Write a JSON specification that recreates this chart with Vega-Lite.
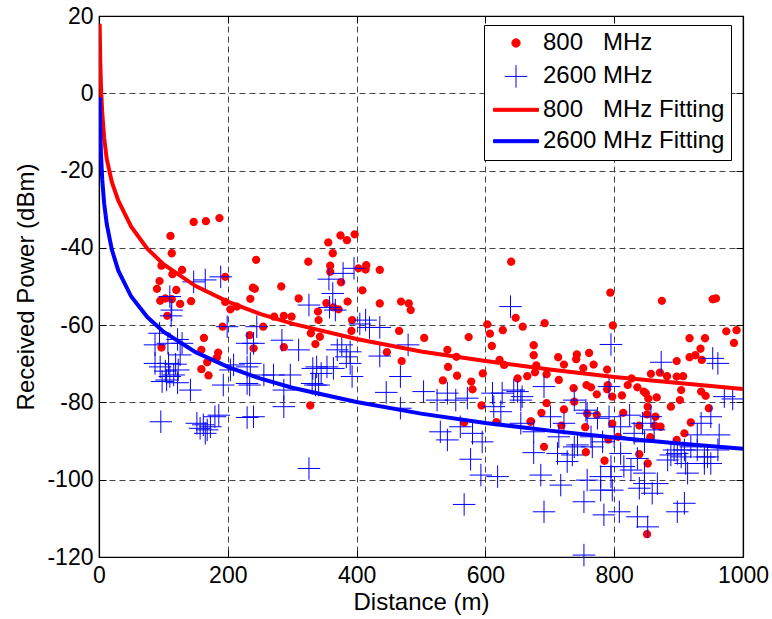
{
  "$schema": "https://vega.github.io/schema/vega-lite/v6.json",
  "width": 644,
  "height": 541,
  "autosize": {"type": "none"},
  "padding": {"left": 99, "top": 16, "right": 29, "bottom": 62},
  "background": "white",
  "config": {
    "view": {"stroke": "black", "strokeWidth": 1.2},
    "font": "Liberation Sans",
    "axis": {
      "domainColor": "black", "domainWidth": 1.2,
      "tickColor": "black", "tickSize": -7, "tickWidth": 1,
      "labelFont": "Liberation Sans", "labelFontSize": 23, "labelColor": "black",
      "titleFont": "Liberation Sans", "titleFontSize": 24, "titleFontWeight": "normal", "titleColor": "black",
      "gridColor": "#444444", "gridDash": [6, 4], "gridWidth": 1, "gridOpacity": 1
    },
    "legend": {
      "strokeColor": "black", "fillColor": "white", "padding": 6,
      "symbolSize": 400, "symbolStrokeWidth": 1,
      "labelFont": "Liberation Sans", "labelFontSize": 24, "labelColor": "black", "labelLimit": 0,
      "labelOffset": 15, "rowPadding": 7.4, "symbolOffset": 14
    }
  },
  "datasets": {
    "r": [
      {"d":111,"p":-36.9},{"d":113,"p":-41.4},{"d":147,"p":-33.3},{"d":166,"p":-33.1},{"d":187,"p":-32.3},{"d":244,"p":-43.1},{"d":325,"p":-43.6},{"d":356,"p":-38.6},{"d":363,"p":-41.4},{"d":375,"p":-36.8},{"d":385,"p":-38},{"d":397,"p":-36.5},
      {"d":97,"p":-44.6},{"d":94,"p":-48.6},{"d":90,"p":-50.6},{"d":114,"p":-46.8},{"d":129,"p":-45.7},{"d":120,"p":-50.9},{"d":95,"p":-53.7},{"d":103,"p":-53.1},{"d":113,"p":-53.3},{"d":126,"p":-54.5},{"d":106,"p":-57.6},{"d":143,"p":-53.8},{"d":196,"p":-47.5},{"d":239,"p":-50.3},{"d":242,"p":-50.6},{"d":235,"p":-53.2},{"d":196,"p":-54},{"d":204,"p":-55.9},{"d":214,"p":-55.2},{"d":283,"p":-50},{"d":310,"p":-53.1},{"d":272,"p":-57.8},{"d":287,"p":-57.6},{"d":299,"p":-57.8},{"d":255,"p":-60.4},{"d":192,"p":-60.4},{"d":163,"p":-63.3},{"d":234,"p":-62.6},{"d":240,"p":-66},{"d":287,"p":-65.7},{"d":97,"p":-65.8},{"d":159,"p":-66.4},{"d":185,"p":-67.1},{"d":183,"p":-68.4},{"d":168,"p":-69.6},{"d":159,"p":-71.4},{"d":170,"p":-73},{"d":340,"p":-56.5},{"d":341,"p":-58.7},{"d":336,"p":-64.9},{"d":329,"p":-62.1},{"d":328,"p":-80.8},
      {"d":359,"p":-44.6},{"d":359,"p":-46.2},{"d":376,"p":-48.9},{"d":403,"p":-45.3},{"d":415,"p":-44.5},{"d":414,"p":-45.6},{"d":436,"p":-45.7},{"d":409,"p":-51},{"d":386,"p":-53.9},{"d":436,"p":-54.4},{"d":469,"p":-53.9},{"d":481,"p":-54.4},{"d":484,"p":-56.1},{"d":353,"p":-54.3},{"d":364,"p":-55.4},{"d":372,"p":-55.9},{"d":393,"p":-58.7},{"d":392,"p":-61.5},{"d":343,"p":-63},{"d":466,"p":-61.5},{"d":505,"p":-63.3},{"d":447,"p":-67},{"d":470,"p":-69.3},{"d":574,"p":-63.1},{"d":541,"p":-66.4},{"d":555,"p":-68.2},{"d":542,"p":-70.8},{"d":556,"p":-73.1},{"d":534,"p":-74.3},{"d":578,"p":-74.6},{"d":580,"p":-76.6},{"d":596,"p":-72.5},{"d":594,"p":-80.8},{"d":567,"p":-85.2},{"d":603,"p":-59.8},{"d":607,"p":-62.2},{"d":610,"p":-65.4},{"d":627,"p":-61.3},{"d":647,"p":-58.1},{"d":658,"p":-60.4},{"d":640,"p":-43.6},{"d":622,"p":-69},{"d":629,"p":-70.3},{"d":650,"p":-73.8},{"d":665,"p":-73.2},{"d":617,"p":-85.1},{"d":670,"p":-85},
      {"d":794,"p":-51.6},{"d":874,"p":-53.7},{"d":953,"p":-53.3},{"d":958,"p":-53.1},{"d":692,"p":-59.5},{"d":798,"p":-60.1},{"d":974,"p":-61.6},{"d":990,"p":-61.3},{"d":986,"p":-64.6},{"d":917,"p":-63.4},{"d":941,"p":-63.4},{"d":934,"p":-66.1},{"d":926,"p":-67.8},{"d":917,"p":-68.3},{"d":936,"p":-69},{"d":897,"p":-69.3},{"d":675,"p":-65.2},{"d":675,"p":-67.8},{"d":713,"p":-68.3},{"d":742,"p":-67.6},{"d":741,"p":-68.8},{"d":761,"p":-67.2},{"d":768,"p":-70.2},{"d":752,"p":-71.1},{"d":722,"p":-70.2},{"d":714,"p":-74.2},{"d":679,"p":-70.4},{"d":677,"p":-72.2},{"d":695,"p":-72.7},{"d":789,"p":-71.5},{"d":790,"p":-75.5},{"d":789,"p":-76.6},{"d":797,"p":-78.5},{"d":812,"p":-78.2},{"d":737,"p":-76.3},{"d":757,"p":-75.5},{"d":764,"p":-76.1},{"d":773,"p":-77.9},{"d":738,"p":-79.8},{"d":695,"p":-80.2},{"d":687,"p":-82.7},{"d":722,"p":-81.8},{"d":758,"p":-82.9},{"d":773,"p":-83.2},{"d":671,"p":-84.9},{"d":718,"p":-86},{"d":755,"p":-86.4},{"d":797,"p":-85.5},{"d":814,"p":-82.7},{"d":821,"p":-75.5},{"d":827,"p":-73.8},{"d":836,"p":-76.1},{"d":846,"p":-77.2},{"d":849,"p":-77.6},{"d":853,"p":-79},{"d":852,"p":-81.1},{"d":851,"p":-83.1},{"d":866,"p":-78.7},{"d":857,"p":-72.6},{"d":871,"p":-72.3},{"d":882,"p":-73.2},{"d":897,"p":-73.3},{"d":907,"p":-73.2},{"d":904,"p":-76.8},{"d":902,"p":-79.4},{"d":888,"p":-81.1},{"d":864,"p":-83.7},{"d":863,"p":-86},{"d":872,"p":-86.3},{"d":839,"p":-86},{"d":856,"p":-89},{"d":839,"p":-93.4},{"d":852,"p":-95.8},{"d":851,"p":-114.1},{"d":919,"p":-85.2},{"d":909,"p":-88},{"d":897,"p":-89.7},{"d":935,"p":-77.2},{"d":942,"p":-78.3},{"d":947,"p":-81.5},{"d":756,"p":-92.9},{"d":785,"p":-95.1},{"d":791,"p":-89.6},{"d":806,"p":-88.9},{"d":691,"p":-91.5}
    ],
    "b": [
      {"d":112,"p":-57.6},{"d":199,"p":-60.4},{"d":94,"p":-62.1},{"d":122,"p":-63.7},{"d":129,"p":-64.7},{"d":107,"p":-64.7},{"d":87,"p":-65.1},{"d":126,"p":-67.7},{"d":87,"p":-69.9},{"d":95,"p":-70.8},{"d":108,"p":-69.9},{"d":119,"p":-70.1},{"d":123,"p":-71.6},{"d":103,"p":-71.9},{"d":110,"p":-73.3},{"d":116,"p":-72.9},{"d":105,"p":-74.2},{"d":98,"p":-74.6},{"d":122,"p":-74.9},{"d":142,"p":-76.8},{"d":193,"p":-75.5},{"d":204,"p":-71.6},{"d":209,"p":-70.3},{"d":230,"p":-70.8},{"d":230,"p":-75.1},{"d":230,"p":-64.7},{"d":96,"p":-85},{"d":162,"p":-85.8},{"d":157,"p":-86.7},{"d":168,"p":-87.1},{"d":173,"p":-86.3},{"d":180,"p":-83.7},{"d":186,"p":-83.3},{"d":165,"p":-88},{"d":230,"p":-83.9},{"d":152,"p":-85.4},
      {"d":165,"p":-48.3},{"d":147,"p":-48.8},{"d":189,"p":-47.5},{"d":110,"p":-52.6},{"d":113,"p":-56.1},{"d":240,"p":-64.7},{"d":245,"p":-60.4},{"d":284,"p":-63.9},{"d":310,"p":-66.4},{"d":326,"p":-54.8},{"d":235,"p":-69.9},{"d":234,"p":-75.5},{"d":256,"p":-72.9},{"d":271,"p":-72.9},{"d":297,"p":-72.9},{"d":287,"p":-76.8},{"d":287,"p":-81.1},{"d":332,"p":-71.2},{"d":336,"p":-75.5},{"d":240,"p":-83.7},{"d":326,"p":-97.1},
      {"d":379,"p":-46.6},{"d":396,"p":-45.3},{"d":357,"p":-48.1},{"d":363,"p":-51.8},{"d":358,"p":-55.4},{"d":367,"p":-56.1},{"d":414,"p":-58.7},{"d":405,"p":-59.7},{"d":436,"p":-60.6},{"d":420,"p":-60.6},{"d":377,"p":-65.1},{"d":370,"p":-66.4},{"d":390,"p":-66.9},{"d":384,"p":-68.2},{"d":436,"p":-68},{"d":480,"p":-65.1},{"d":468,"p":-73.3},{"d":390,"p":-69.9},{"d":393,"p":-73.3},{"d":338,"p":-70.8},{"d":354,"p":-70.8},{"d":364,"p":-71.2},{"d":345,"p":-72.5},{"d":331,"p":-75.1},{"d":341,"p":-75.5},{"d":446,"p":-77.4},{"d":468,"p":-81.5},{"d":504,"p":-77.2},{"d":541,"p":-77.6},{"d":554,"p":-79.4},{"d":572,"p":-78.9},{"d":525,"p":-79.4},{"d":611,"p":-77.6},{"d":626,"p":-77.6},{"d":613,"p":-81.1},{"d":624,"p":-82.4},{"d":650,"p":-77.2},{"d":655,"p":-79.4},{"d":639,"p":-55.2},{"d":530,"p":-87.6},{"d":541,"p":-89.7},{"d":561,"p":-86.3},{"d":580,"p":-88},{"d":595,"p":-90.2},{"d":577,"p":-94.7},{"d":593,"p":-98.8},{"d":619,"p":-99.2},{"d":655,"p":-85.4},
      {"d":567,"p":-106.4},{"d":675,"p":-93},{"d":686,"p":-98.8},{"d":717,"p":-101.4},{"d":691,"p":-108.3},{"d":727,"p":-95.3},{"d":735,"p":-93.6},{"d":753,"p":-105.7},{"d":766,"p":-91.5},{"d":784,"p":-109.1},{"d":779,"p":-99.2},{"d":795,"p":-99.2},{"d":797,"p":-102.7},{"d":808,"p":-108.3},{"d":839,"p":-102.2},{"d":852,"p":-112.2},{"d":836,"p":-109.6},{"d":859,"p":-103.5},{"d":867,"p":-101},{"d":909,"p":-106.1},{"d":898,"p":-108.3},{"d":914,"p":-98.3},{"d":940,"p":-95.8},{"d":945,"p":-94.1},{"d":753,"p":-119.5},{"d":815,"p":-96.6},{"d":810,"p":-93.2},{"d":847,"p":-98.3},{"d":883,"p":-94.9},{"d":898,"p":-93.2},{"d":712,"p":-93.2},{"d":743,"p":-91},{"d":961,"p":-92.3},{"d":929,"p":-92.3},
      {"d":795,"p":-65},{"d":873,"p":-69.6},{"d":953,"p":-68.6},{"d":961,"p":-69.9},{"d":984,"p":-79.1},{"d":971,"p":-78.5},{"d":644,"p":-76.8},{"d":657,"p":-78.5},{"d":691,"p":-75.9},{"d":738,"p":-79.4},{"d":701,"p":-83.7},{"d":722,"p":-85.4},{"d":758,"p":-82.8},{"d":774,"p":-84.1},{"d":792,"p":-75.9},{"d":792,"p":-83.7},{"d":764,"p":-88.9},{"d":782,"p":-90.2},{"d":800,"p":-88.9},{"d":810,"p":-86.3},{"d":831,"p":-88},{"d":847,"p":-90.2},{"d":862,"p":-87.1},{"d":857,"p":-83.7},{"d":893,"p":-92.3},{"d":904,"p":-94.1},{"d":929,"p":-88.4},{"d":935,"p":-85.4},{"d":909,"p":-92.3},{"d":919,"p":-91.5},{"d":940,"p":-94.1},{"d":950,"p":-95.8},{"d":888,"p":-93.6},{"d":950,"p":-83.7},{"d":963,"p":-88.4},{"d":756,"p":-82},{"d":824,"p":-83.3},{"d":844,"p":-85.4},{"d":714,"p":-88.9},{"d":675,"p":-87.6},{"d":738,"p":-91.5},{"d":795,"p":-96.6},{"d":758,"p":-100.1},{"d":826,"p":-97.5},{"d":911,"p":-95.8},{"d":836,"p":-94.5},{"d":847,"p":-101},{"d":779,"p":-102.7}
    ],
    "rf": [
      {"d":1,"p":18},{"d":2,"p":8},{"d":3,"p":2},{"d":5,"p":-5},{"d":8,"p":-11.5},{"d":12,"p":-17},{"d":20,"p":-23},{"d":30,"p":-27.8},{"d":50,"p":-34.5},{"d":75,"p":-40.2},{"d":100,"p":-44.2},{"d":150,"p":-49.9},{"d":200,"p":-53.9},{"d":250,"p":-57.1},{"d":300,"p":-59.6},{"d":400,"p":-63.6},{"d":500,"p":-66.8},{"d":600,"p":-69.3},{"d":700,"p":-71.5},{"d":800,"p":-73.4},{"d":900,"p":-75.0},{"d":1000,"p":-76.5}
    ],
    "bf": [
      {"d":1,"p":-1},{"d":2,"p":-10},{"d":3,"p":-15.5},{"d":5,"p":-22.3},{"d":8,"p":-28.5},{"d":12,"p":-33.8},{"d":20,"p":-40.5},{"d":30,"p":-45.9},{"d":50,"p":-52.6},{"d":75,"p":-57.9},{"d":100,"p":-61.7},{"d":150,"p":-67.0},{"d":200,"p":-70.8},{"d":250,"p":-73.8},{"d":300,"p":-76.2},{"d":400,"p":-79.9},{"d":500,"p":-82.9},{"d":600,"p":-85.3},{"d":700,"p":-87.3},{"d":800,"p":-89.1},{"d":900,"p":-90.6},{"d":1000,"p":-92.0}
    ]
  },
  "resolve": {"axis": {"x": "independent", "y": "independent"}},
  "layer": [
    {
      "data": {"name": "r"},
      "mark": {"type": "point", "filled": true, "size": 400, "opacity": 1, "strokeWidth": 0},
      "encoding": {
        "x": {"field": "d", "type": "quantitative", "scale": {"domain": [0, 1000], "nice": false, "zero": false},
              "axis": {"orient": "bottom", "values": [0, 200, 400, 600, 800, 1000], "title": "Distance (m)", "labelPadding": 14, "titlePadding": 3, "grid": true, "labelFlush": false, "labelExpr": "'' + datum.value"}},
        "y": {"field": "p", "type": "quantitative", "scale": {"domain": [-120, 20], "nice": false, "zero": false},
              "axis": {"orient": "left", "values": [-120, -100, -80, -60, -40, -20, 0, 20], "title": "Received Power (dBm)", "labelPadding": 13, "titlePadding": 8, "grid": true, "labelFlush": false, "labelExpr": "'' + datum.value"}},
        "color": {"datum": "r", "type": "nominal",
                  "scale": {"domain": ["r", "b", "rf", "bf"], "range": ["#ff0000", "#0000ff", "#ff0000", "#0000ff"]},
                  "legend": {"title": null, "orient": "none", "legendX": 385, "legendY": 9,
                             "labelExpr": "datum.value == 'r' ? '800\u00a0\u00a0\u00a0MHz' : datum.value == 'b' ? '2600 MHz' : datum.value == 'rf' ? '800\u00a0\u00a0\u00a0MHz Fitting' : '2600 MHz Fitting'",
                             "encode": {"symbols": {"update": {
                               "fill": {"scale": "color", "field": "value"},
                               "stroke": {"scale": "color", "field": "value"},
                               "strokeWidth": {"value": 1},
                               "shape": {"scale": "shape", "field": "value"},
                               "opacity": {"value": 1}}}}}},
        "shape": {"datum": "r", "type": "nominal",
                  "scale": {"domain": ["r", "b", "rf", "bf"],
                            "range": ["M-0.416,0A0.416,0.416,0,1,0,0.416,0A0.416,0.416,0,1,0,-0.416,0Z", "M-1.125,0L1.125,0M0,-1.125L0,1.125", "M-2.25,-0.15L2.25,-0.15L2.25,0.15L-2.25,0.15Z", "M-2.25,-0.15L2.25,-0.15L2.25,0.15L-2.25,0.15Z"]},
                  "legend": null}
      }
    },
    {
      "data": {"name": "b"},
      "mark": {"type": "point", "filled": false, "size": 400, "opacity": 1, "strokeWidth": 1},
      "encoding": {
        "x": {"field": "d", "type": "quantitative", "axis": {"orient": "top", "values": [0, 200, 400, 600, 800, 1000], "labels": false, "title": null, "grid": false}},
        "y": {"field": "p", "type": "quantitative", "axis": {"orient": "right", "values": [-120, -100, -80, -60, -40, -20, 0, 20], "labels": false, "title": null, "grid": false}},
        "color": {"datum": "b", "type": "nominal"},
        "shape": {"datum": "b", "type": "nominal", "legend": null}
      }
    },
    {
      "data": {"name": "rf"},
      "mark": {"type": "line", "strokeWidth": 4, "clip": true},
      "encoding": {
        "x": {"field": "d", "type": "quantitative", "axis": null},
        "y": {"field": "p", "type": "quantitative", "axis": null},
        "color": {"datum": "rf", "type": "nominal"}
      }
    },
    {
      "data": {"name": "bf"},
      "mark": {"type": "line", "strokeWidth": 4, "clip": true},
      "encoding": {
        "x": {"field": "d", "type": "quantitative", "axis": null},
        "y": {"field": "p", "type": "quantitative", "axis": null},
        "color": {"datum": "bf", "type": "nominal"}
      }
    }
  ]
}
